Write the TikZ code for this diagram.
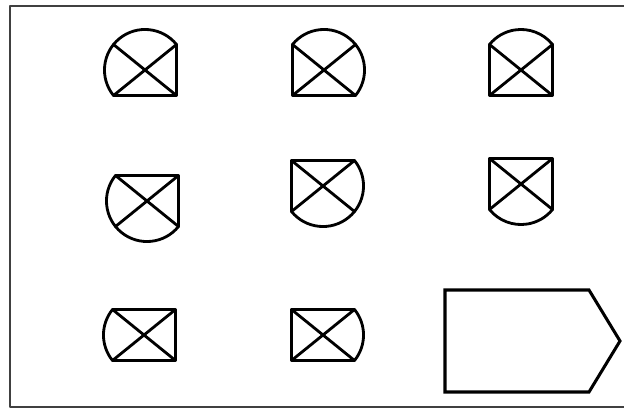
\documentclass[tikz,border=0pt]{standalone}
\usepackage{tikz}

\begin{document}
\begin{tikzpicture}[x=0.03cm, y=0.03cm,
    line join=round, line cap=round,
    figline/.style={line width=2.4pt},
    rahmen/.style={line width=1.9pt, black!75}]

    % 画面の大きさ
    \useasboundingbox (0,0) rectangle (624,413);

    % パラメータの定義
    \pgfmathsetmacro{\W}{31.5} % 半分の横幅
    \pgfmathsetmacro{\H}{25.5} % 半分の高さ
    \pgfmathsetmacro{\R}{sqrt(\W*\W+\H*\H)} % 外接円の半径
    \pgfmathsetmacro{\P}{atan(\H/\W)} % 角の方向

    % 枠 (右側は切れている)
    \draw [rahmen] (630,407) -- (10,407) -- (10,6) -- (630,6);

    % 八つの図形 (中心, 弧の始まりと終わり, 直線部分)
    \foreach \cx/\cy/\anf/\ende/\kanten in {
        145/343/\P/180+\P/{(BL) -- (BR) -- (TR)},
        324/343/-\P/180-\P/{(TL) -- (BL) -- (BR)},
        521/343/\P/180-\P/{(TL) -- (BL) -- (BR) -- (TR)},
        147/212/180-\P/360-\P/{(BR) -- (TR) -- (TL)},
        323/227/180+\P/360+\P/{(TR) -- (TL) -- (BL)},
        521/229/180+\P/360-\P/{(BR) -- (TR) -- (TL) -- (BL)},
        144/78/180-\P/180+\P/{(BL) -- (BR) -- (TR) -- (TL)},
        323/78/-\P/\P/{(TR) -- (TL) -- (BL) -- (BR)}}
    {
      \begin{scope}[shift={(\cx,\cy)}]
        \coordinate (TR) at (\W,\H);
        \coordinate (TL) at (-\W,\H);
        \coordinate (BL) at (-\W,-\H);
        \coordinate (BR) at (\W,-\H);
        \draw [figline] (\anf:\R) arc[start angle=\anf, end angle=\ende, radius=\R];
        \draw [figline] \kanten;
        \draw [figline] (TL) -- (BR) (TR) -- (BL);
      \end{scope}
    }

    % 五角形
    \coordinate (A) at (445,123);
    \coordinate (B) at (589,123);
    \coordinate (C) at (620,72);
    \coordinate (D) at (589,21);
    \coordinate (E) at (445,21);
    \draw [figline, line width=2.6pt, line join=miter] (A) -- (B) -- (C) -- (D) -- (E) -- cycle;

\end{tikzpicture}
\end{document}
